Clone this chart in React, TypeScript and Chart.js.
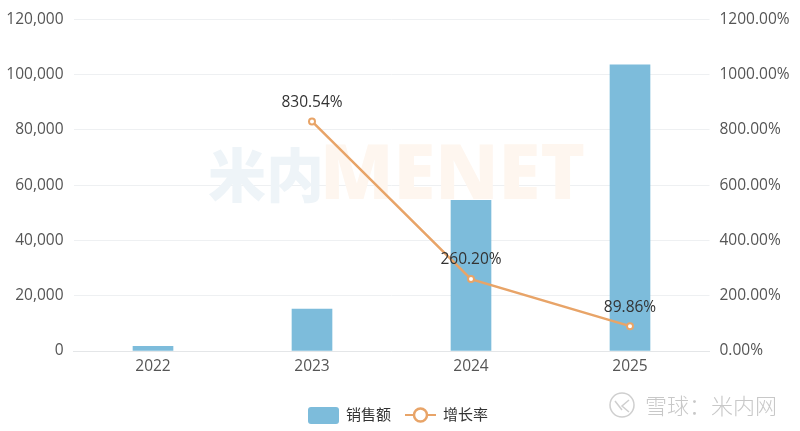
import React, { useEffect, useRef } from "react";
import { Chart, registerables } from "chart.js";

Chart.register(...registerables);

const categories = ["2022", "2023", "2024", "2025"];
const sales = [1700, 15200, 54500, 103500];
const growth = [null, 830.54, 260.2, 89.86];
const salesLabel = "销售额";
const growthLabel = "增长率";
const leftTicks = [0, 20000, 40000, 60000, 80000, 100000, 120000];
const rightTicks = [0, 200, 400, 600, 800, 1000, 1200];

const BAR = "#7dbcdb";
const LINE = "#e8a468";
const FONT = '"Open Sans", "Noto Sans CJK SC", sans-serif';
const CJK = '"Noto Sans CJK SC", sans-serif';

const backdrop = {
  id: "backdrop",
  beforeDatasetsDraw(chart: any) {
    const c = chart.ctx;
    c.save();
    c.textBaseline = "middle";
    c.textAlign = "left";
    c.font = `900 58px ${CJK}`;
    c.fillStyle = "#eef4f8";
    c.fillText("米内", 208, 175);
    c.font = `800 76px ${FONT}`;
    c.fillStyle = "#fef6ef";
    c.fillText("MENET", 320, 177);
    c.restore();
  },
};

const overlay = {
  id: "overlay",
  afterDatasetsDraw(chart: any) {
    const c = chart.ctx;
    c.save();
    // value labels
    const meta = chart.getDatasetMeta(0);
    c.font = `15.5px ${FONT}`;
    c.fillStyle = "#333";
    c.textAlign = "center";
    c.textBaseline = "middle";
    growth.forEach((v, i) => {
      if (v == null) return;
      const p = meta.data[i];
      c.fillText(v.toFixed(2) + "%", p.x, p.y - 19);
    });
    // legend
    c.fillStyle = BAR;
    c.beginPath();
    c.roundRect(308, 407, 31, 17, 3);
    c.fill();
    c.font = `15px ${CJK}`;
    c.fillStyle = "#333";
    c.textAlign = "left";
    c.fillText(salesLabel, 346, 414);
    c.fillText(growthLabel, 443, 414);
    c.strokeStyle = LINE;
    c.lineWidth = 2;
    c.beginPath();
    c.moveTo(405, 415);
    c.lineTo(436, 415);
    c.stroke();
    c.fillStyle = "#fff";
    c.lineWidth = 2.5;
    c.beginPath();
    c.arc(420.5, 415, 6.5, 0, Math.PI * 2);
    c.fill();
    c.stroke();
    // site mark
    c.strokeStyle = "#cfcfcf";
    c.lineWidth = 1.5;
    c.beginPath();
    c.arc(622, 405, 12, 0, Math.PI * 2);
    c.stroke();
    c.beginPath();
    c.moveTo(615, 401);
    c.lineTo(622, 410);
    c.moveTo(629, 400);
    c.lineTo(622, 406);
    c.lineTo(629, 412);
    c.stroke();
    c.font = `300 22px ${CJK}`;
    c.fillStyle = "#c8c8c8";
    c.fillText("雪球：米内网", 645, 406);
    c.restore();
  },
};

export default function App() {
  const ref = useRef<HTMLCanvasElement>(null);
  useEffect(() => {
    document.body.style.margin = "0";
    const chart = new Chart(ref.current!, {
      type: "bar",
      data: {
        labels: categories,
        datasets: [
          {
            type: "line",
            label: growthLabel,
            data: growth,
            yAxisID: "y1",
            order: 1,
            borderColor: LINE,
            borderWidth: 2.5,
            pointRadius: 3,
            pointBorderWidth: 2,
            pointBackgroundColor: "#fff",
            pointBorderColor: LINE,
            tension: 0,
            spanGaps: false,
          },
          {
            type: "bar",
            label: salesLabel,
            data: sales,
            yAxisID: "y",
            order: 2,
            backgroundColor: BAR,
            barThickness: 40,
          },
        ] as any,
      },
      options: {
        responsive: false,
        animation: false,
        layout: { padding: { top: 18, bottom: 0, left: 0, right: 0 } },
        plugins: { legend: { display: false }, tooltip: { enabled: false } },
        scales: {
          x: {
            grid: { display: false, drawTicks: false },
            border: { color: "#e4e6e8" },
            ticks: { color: "#555", font: { family: FONT, size: 15.5 }, padding: 6 },
            afterFit(s: any) { s.height = 80; },
          },
          y: {
            position: "left",
            min: 0,
            max: 120000,
            afterBuildTicks(s: any) { s.ticks = leftTicks.map((value) => ({ value })); },
            grid: { color: "#eef0f2", drawTicks: false },
            border: { display: false },
            ticks: {
              color: "#555",
              font: { family: FONT, size: 15.5 },
              padding: 10,
              callback: (v: any) => Number(v).toLocaleString("en-US"),
            },
            afterFit(s: any) { s.width = 73.5; },
          },
          y1: {
            position: "right",
            min: 0,
            max: 1200,
            afterBuildTicks(s: any) { s.ticks = rightTicks.map((value) => ({ value })); },
            grid: { display: false, drawTicks: false },
            border: { display: false },
            ticks: {
              color: "#555",
              font: { family: FONT, size: 15.5 },
              padding: 10,
              callback: (v: any) => Number(v).toFixed(2) + "%",
            },
            afterFit(s: any) { s.width = 90.5; },
          },
        },
      } as any,
      plugins: [backdrop, overlay],
    });
    return () => chart.destroy();
  }, []);
  return <canvas ref={ref} width={800} height={431} style={{ display: "block" }} />;
}
